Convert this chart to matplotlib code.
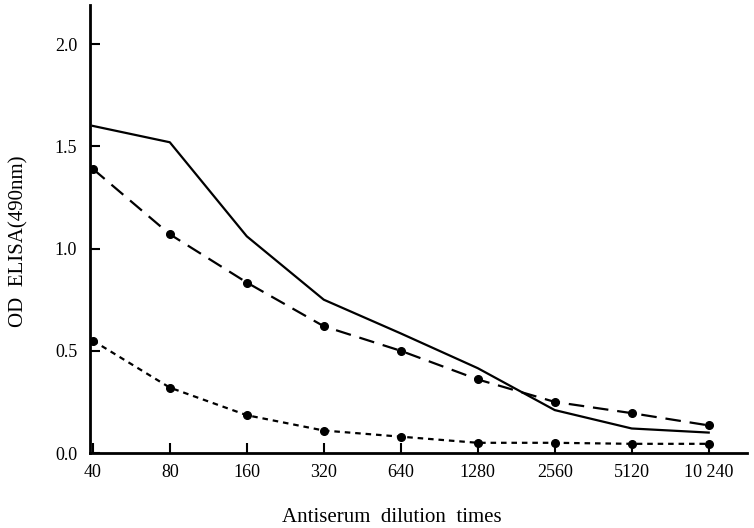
import matplotlib.pyplot as plt

# antiserum dilutions (categorical, evenly spaced)
dilutions = ['40', '80', '160', '320', '640', '1280', '2560', '5120', '10240']
tick_labels = ['40', '80', '160', '320', '640', '1280', '2560', '5120', '10 240']

# OD
od_solid = [1.60, 1.52, 1.06, 0.75, 0.585, 0.415, 0.21, 0.12, 0.10]
od_dashed = [1.39, 1.07, 0.834, 0.62, 0.50, 0.36, 0.25, 0.195, 0.135]
od_dotted = [0.55, 0.32, 0.185, 0.11, 0.08, 0.05, 0.05, 0.045, 0.045]

yticks = [0.0, 0.5, 1.0, 1.5, 2.0]

plt.rcParams['font.family'] = ['Liberation Serif', 'DejaVu Serif']

fig = plt.figure(figsize=(7.54, 5.28), dpi=100)
ax = fig.add_axes([0.119, 0.142, 0.872, 0.848])

x = list(range(len(dilutions)))
ax.plot(x, od_solid, color='black', lw=1.6, linestyle='-')
ax.plot(x, od_dashed, color='black', lw=1.6, linestyle=(0, (7, 4)),
        marker='o', markersize=5.5)
ax.plot(x, od_dotted, color='black', lw=1.6, linestyle=(0, (2.5, 2.2)),
        marker='o', markersize=5.5)

ax.set_xlim(-0.04, 8.5)
ax.set_ylim(0, 2.19)
ax.set_xticks(x)
ax.set_xticklabels(tick_labels)
ax.set_yticks(yticks)
ax.set_yticklabels(['%.1f' % v for v in yticks])

for s in ['top', 'right']:
    ax.spines[s].set_visible(False)
for s in ['left', 'bottom']:
    ax.spines[s].set_linewidth(2)

ax.tick_params(axis='both', direction='in', length=7, width=1.5, labelsize=13)
ax.tick_params(axis='x', pad=8)
ax.tick_params(axis='y', pad=9)

ax.set_ylabel('OD  ELISA(490nm)', fontsize=15)
ax.yaxis.set_label_coords(-0.093, 0.473)
ax.set_xlabel('Antiserum  dilution  times', fontsize=15)
ax.xaxis.set_label_coords(0.46, -0.123)

fig.savefig('out.png', dpi=100)
